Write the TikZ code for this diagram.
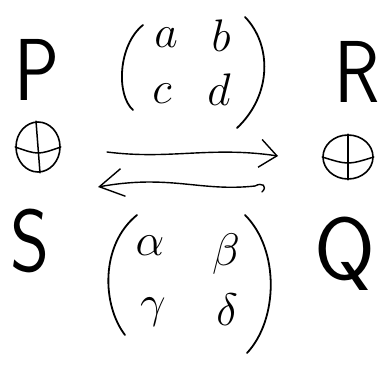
\documentclass[tikz,border=0pt]{standalone}
\usetikzlibrary{arrows.meta,shapes.geometric}
\begin{document}
\begin{tikzpicture}[x=1pt,y=-1pt,line width=1.5pt,line cap=round,line join=round,
  bigletter/.style={font=\fontsize{88}{88}\selectfont\sffamily,inner sep=0pt},
  entry/.style={font=\fontsize{20}{20}\selectfont,inner sep=0pt,scale=2.2},
  paren/.style={line width=1.8pt},
  oplusnode/.style={draw,ellipse,inner sep=0pt,line width=1.6pt},
  handarrow/.style={line width=1.4pt}]
\useasboundingbox (0,0) rectangle (390,371);
% big letters
\node[bigletter,xscale=0.85] (P) at (37,70) {P};
\node[bigletter,xscale=0.85] (R) at (357,72) {R};
\node[bigletter,xscale=0.85] (S) at (30,241) {S};
\node[bigletter] (Q) at (345,254) {Q};
% top matrix
\node[entry] (a) at (166,38) {$a$};
\node[entry] (b) at (221,36) {$b$};
\node[entry] (c) at (162,94) {$c$};
\node[entry] (d) at (219,90) {$d$};
\draw[paren] (143,25) .. controls (118,45) and (116,95) .. (133,110);
\draw[paren] (245,17) .. controls (272,45) and (272,95) .. (237,128);
% bottom matrix
\node[entry] (al) at (150,246) {$\alpha$};
\node[entry] (be) at (226,254) {$\beta$};
\node[entry] (ga) at (153,312) {$\gamma$};
\node[entry] (de) at (227,310) {$\delta$};
\draw[paren] (137,215) .. controls (100,245) and (102,305) .. (125,335);
\draw[paren] (245,215) .. controls (280,250) and (278,320) .. (247,353);
% circled crosses
\node[oplusnode,minimum width=44,minimum height=50] (oL) at (38,147) {};
\draw ([xshift=-2pt]oL.north) -- ([xshift=2pt]oL.south);
\draw (oL.west) .. controls ([yshift=-8pt]oL.center) .. (oL.east);
\node[oplusnode,minimum width=50,minimum height=44] (oR) at (348,157) {};
\draw (oR.north) -- (oR.south);
\draw (oR.west) .. controls ([yshift=-8pt]oR.center) .. (oR.east);
% arrows
\coordinate (t1) at (107,152);
\coordinate (t2) at (278,156);
\coordinate (b1) at (98,187);
\coordinate (b2) at (262,192);
\draw[handarrow,-{Straight Barb[length=17pt,width=28pt]}] (t1) .. controls (170,160) and (210,146) .. (t2);
\draw[handarrow,-{Straight Barb[length=24pt,width=28pt]}] (b2) .. controls (268,186) and (262,182) .. (255,186) .. controls (200,192) and (170,174) .. (b1);
\end{tikzpicture}
\end{document}
